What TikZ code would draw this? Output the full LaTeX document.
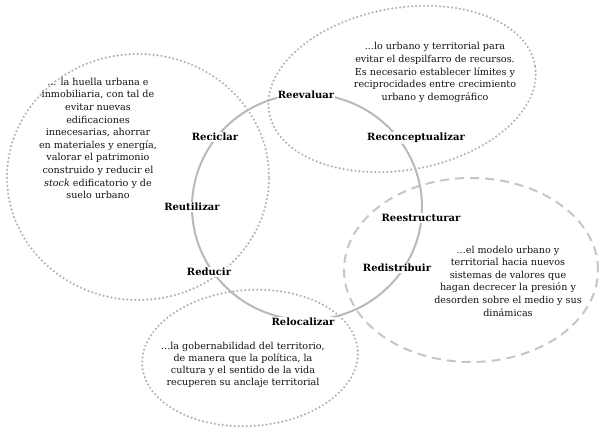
\documentclass[tikz,border=0pt]{standalone}
\usepackage{fontspec}
\setmainfont{DejaVu Serif}
\begin{document}
\begin{tikzpicture}[x=1pt,y=-1pt,
  dotring/.style={draw=gray!60, line width=2.4pt, line cap=round, dash pattern=on 0pt off 4pt},
  dashring/.style={draw=gray!45, line width=2pt, dash pattern=on 9pt off 6pt},
  mainring/.style={draw=gray!55, line width=2pt},
  verb/.style={font=\fontsize{10}{11}\selectfont\bfseries, fill=white, inner sep=1pt, text=black},
  desc/.style={font=\fontsize{9.6}{12.6}\selectfont, align=center, text=black!92, inner sep=0pt}]
\useasboundingbox (0,0) rectangle (600,430);
\fill[white] (0,0) rectangle (600,430);

% rings
\coordinate (cL) at (138,177);
\coordinate (cT) at (402,89);
\coordinate (cR) at (471,270);
\coordinate (cB) at (250,358);
\coordinate (cM) at (307,207);
\draw[dotring] (cL) ellipse [x radius=131pt, y radius=123pt];
\draw[dotring, rotate around={10:(cT)}] (cT) ellipse [x radius=135pt, y radius=81pt];
\draw[dotring, rotate around={4:(cB)}] (cB) ellipse [x radius=108pt, y radius=68pt];
\draw[dashring] (cR) ellipse [x radius=127pt, y radius=92pt];
\draw[mainring] (cM) ellipse [x radius=115pt, y radius=113pt];

% labels on the central ring
\node[verb] (reev) at (306,95) {Reevaluar};
\node[verb] (reco) at (416,138) {Reconceptualizar};
\node[verb] (reci) at (215,137) {Reciclar};
\node[verb] (reut) at (192,207) {Reutilizar};
\node[verb] (redu) at (209,272) {Reducir};
\node[verb] (relo) at (303,322) {Relocalizar};
\node[verb] (rees) at (421,218) {Reestructurar};
\node[verb] (redi) at (397,268) {Redistribuir};

% descriptions
\node[desc] (tL) at (98,138.5) {... la huella urbana e\\inmobiliaria, con tal de\\evitar nuevas\\edificaciones\\innecesarias, ahorrar\\en materiales y energía,\\valorar el patrimonio\\construido y reducir el\\\textit{stock} edificatorio y de\\suelo urbano};
\node[desc] (tT) at (435,72.5) {...lo urbano y territorial para\\evitar el despilfarro de recursos.\\Es necesario establecer límites y\\reciprocidades entre crecimiento\\urbano y demográfico};
\node[desc] (tR) at (508,281) {...el modelo urbano y\\territorial hacia nuevos\\sistemas de valores que\\hagan decrecer la presión y\\desorden sobre el medio y sus\\dinámicas};
\node[desc, font=\fontsize{9.6}{12}\selectfont] (tB) at (243,365) {...la gobernabilidad del territorio,\\de manera que la política, la\\cultura y el sentido de la vida\\recuperen su anclaje territorial};
\end{tikzpicture}
\end{document}
